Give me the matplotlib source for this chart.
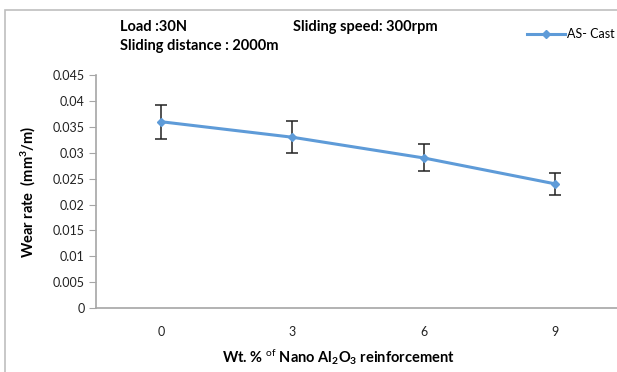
import numpy as np
import matplotlib.pyplot as plt
from matplotlib.patches import Rectangle
from matplotlib.lines import Line2D

plt.rcParams['font.family'] = ['Lato', 'DejaVu Sans']
plt.rcParams['mathtext.fontset'] = 'custom'
plt.rcParams['mathtext.rm'] = 'Lato'
plt.rcParams['mathtext.bf'] = 'Lato:bold'
plt.rcParams['mathtext.it'] = 'Lato:italic'

# wear data
wt_pct = ['0', '3', '6', '9']
wear_rate = [0.036, 0.033, 0.029, 0.024]
wear_err = [0.0033, 0.0031, 0.0026, 0.0021]

blue = '#5E9BD8'
grey = '#A6A6A6'

fig = plt.figure(figsize=(6.17, 3.72), dpi=100)

# chart frame
fig.patches.append(Rectangle((5 / 617, -0.1), 1.2, 1 - 10 / 372 + 0.1,
                             transform=fig.transFigure, fill=False,
                             edgecolor='#BFBFBF', linewidth=1.2))

ax = fig.add_axes([0.1548, 0.172, 0.851, 0.626])
x = np.arange(len(wt_pct))
ax.errorbar(x, wear_rate, yerr=wear_err, color=blue, linewidth=2.2,
            marker='D', markersize=4.5, ecolor='#222222', elinewidth=1.1,
            capsize=4, capthick=1.1, zorder=3)

ax.set_xlim(-0.5, 3.5)
ax.set_ylim(0, 0.045)
ax.set_yticks(np.arange(0, 0.0451, 0.005))
ax.set_yticklabels(['0', '0.005', '0.01', '0.015', '0.02', '0.025',
                    '0.03', '0.035', '0.04', '0.045'])
ax.set_xticks(x)
ax.set_xticklabels(wt_pct)

for s in ['top', 'right']:
    ax.spines[s].set_visible(False)
for s in ['left', 'bottom']:
    ax.spines[s].set_color(grey)
    ax.spines[s].set_linewidth(1.2)

ax.tick_params(axis='y', length=5, color=grey, labelsize=9, labelcolor='#222222', pad=3)
ax.tick_params(axis='x', length=0, labelsize=9, labelcolor='#222222', pad=13)

ax.set_ylabel('Wear rate  (mm$^\\mathbf{3}$/m)', fontsize=10.5, fontweight='bold', labelpad=10)

fig.text(0.548, 0.04,
         'Wt. % $^\\mathrm{of}$ Nano Al$_\\mathbf{2}$O$_\\mathbf{3}$ reinforcement',
         ha='center', va='center', fontsize=10.5, fontweight='bold')

fig.text(120 / 617, 1 - 27 / 372, 'Load :30N', fontsize=10.5, fontweight='bold', va='center')
fig.text(293 / 617, 1 - 27 / 372, 'Sliding speed: 300rpm', fontsize=10.5, fontweight='bold', va='center')
fig.text(120 / 617, 1 - 46 / 372, 'Sliding distance : 2000m', fontsize=10.5, fontweight='bold', va='center')

handle = Line2D([], [], color=blue, linewidth=2.2, marker='D', markersize=4)
fig.legend([handle], ['AS- Cast'], loc='center right',
           bbox_to_anchor=(615 / 617, 1 - 34 / 372), bbox_transform=fig.transFigure,
           frameon=False, fontsize=9, handlelength=3.0, handletextpad=0.2,
           borderpad=0, borderaxespad=0)

fig.savefig('out.png', dpi=100)
